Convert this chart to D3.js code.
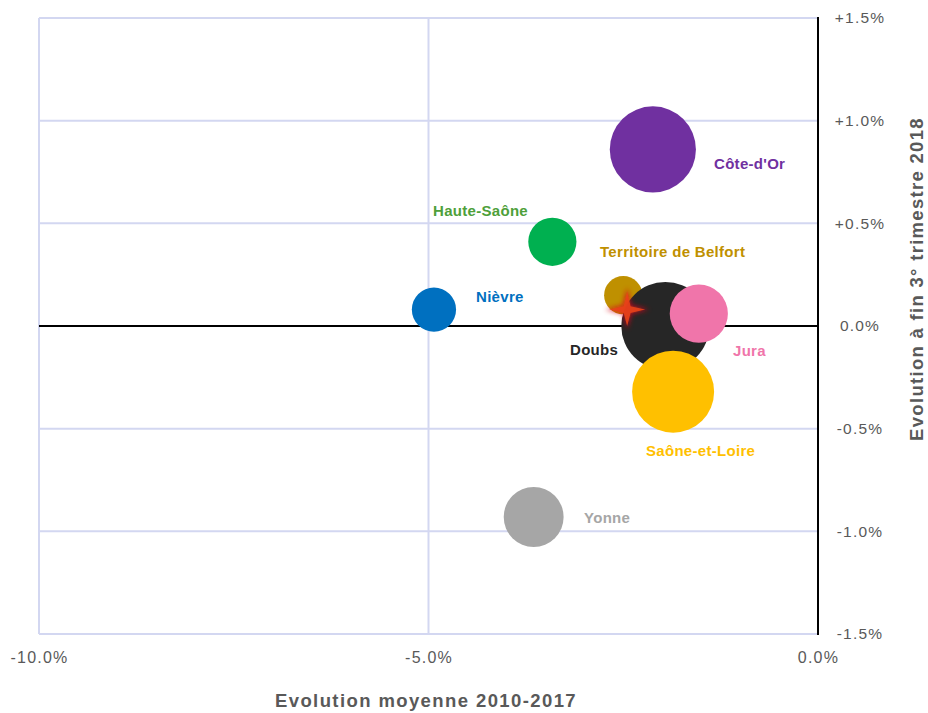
<!DOCTYPE html>
<html lang="fr">
<head>
<meta charset="utf-8">
<script src="https://cdn.jsdelivr.net/npm/d3@7"></script>
<style>
  html, body { margin: 0; padding: 0; background: #ffffff; }
  svg { display: block; font-family: Arial, "Liberation Sans", sans-serif; }
</style>
</head>
<body>
<svg id="chart" width="928" height="713"></svg>
<script>
// Départements : évolution moyenne 2010-2017 (x) et évolution à fin T3 2018 (y)
const departements = ["Côte-d'Or", "Haute-Saône", "Nièvre", "Territoire de Belfort", "Doubs", "Jura", "Saône-et-Loire", "Yonne"];
const evolMoyenne   = [-2.12, -3.41, -4.93, -2.50, -1.96, -1.53, -1.86, -3.65];
const evolFinT3     = [0.86, 0.41, 0.08, 0.15, 0.00, 0.06, -0.32, -0.93];
const effectifs     = [182, 57, 48, 36, 190, 83, 165, 88];
const couleurs      = ["#7030A0", "#00B050", "#0070C0", "#BF9000", "#262626", "#F075AA", "#FFC000", "#A6A6A6"];
const couleursTexte = ["#7030A0", "#4EA03A", "#0070C0", "#BF9000", "#262626", "#F075AA", "#FFC000", "#A6A6A6"];

// Moyenne régionale (étoile)
const regionX = -2.45;
const regionY = 0.08;

// Graduations
const xTicks = [-10, -5, 0];
const xTickLabels = ["-10.0%", "-5.0%", "0.0%"];
const yTicks = [1.5, 1.0, 0.5, 0, -0.5, -1.0, -1.5];
const yTickLabels = ["+1.5%", "+1.0%", "+0.5%", "0.0%", "-0.5%", "-1.0%", "-1.5%"];

const svg = d3.select("#chart");
const plotLeft = 39, plotRight = 818, plotTop = 18, plotBottom = 634;

const x = d3.scaleLinear().domain([-10, 0]).range([plotLeft, plotRight]);
const y = d3.scaleLinear().domain([-1.5, 1.5]).range([plotBottom, plotTop]);
const r = d3.scaleSqrt().domain([0, 190]).range([0, 44]);

const gridColor = "#D3D7F1";

// Quadrillage
const grid = svg.append("g");
grid.selectAll("line.h").data(yTicks).join("line")
  .attr("x1", plotLeft).attr("x2", plotRight)
  .attr("y1", d => y(d)).attr("y2", d => y(d))
  .attr("stroke", gridColor).attr("stroke-width", 2);
grid.selectAll("line.v").data(xTicks.filter(d => d !== 0)).join("line")
  .attr("x1", d => x(d)).attr("x2", d => x(d))
  .attr("y1", plotTop).attr("y2", plotBottom)
  .attr("stroke", gridColor).attr("stroke-width", 2);

// Axes principaux (croisement à 0)
svg.append("line")
  .attr("x1", plotLeft).attr("x2", plotRight)
  .attr("y1", y(0)).attr("y2", y(0))
  .attr("stroke", "#000").attr("stroke-width", 2);
svg.append("line")
  .attr("x1", x(0)).attr("x2", x(0))
  .attr("y1", plotTop - 1).attr("y2", plotBottom + 1)
  .attr("stroke", "#000").attr("stroke-width", 2);

// Axe vertical (à droite)
const yAxis = d3.axisRight(y)
  .tickValues(yTicks)
  .tickSize(0)
  .tickPadding(0)
  .tickFormat((d, i) => yTickLabels[i]);
const gy = svg.append("g").attr("transform", `translate(860,0)`).call(yAxis);
gy.select(".domain").remove();
gy.selectAll("text")
  .attr("text-anchor", "middle")
  .attr("x", 0)
  .attr("fill", "#595959")
  .style("font-size", "15.5px")
  .style("letter-spacing", "1.2px")
  .style("font-family", "Arial, 'Liberation Sans', sans-serif");

// Axe horizontal
const xAxis = d3.axisBottom(x)
  .tickValues(xTicks)
  .tickSize(0)
  .tickPadding(0)
  .tickFormat((d, i) => xTickLabels[i]);
const gx = svg.append("g").attr("transform", `translate(0,651)`).call(xAxis);
gx.select(".domain").remove();
gx.selectAll("text")
  .attr("fill", "#595959")
  .attr("dy", "0.75em")
  .style("font-size", "16px")
  .style("letter-spacing", "1.2px")
  .style("font-family", "Arial, 'Liberation Sans', sans-serif");

// Titres d'axes
svg.append("text")
  .attr("x", 426).attr("y", 707)
  .attr("text-anchor", "middle")
  .attr("fill", "#595959")
  .style("font-size", "18.5px")
  .style("font-weight", "bold")
  .style("letter-spacing", "1.4px")
  .text("Evolution moyenne 2010-2017");

svg.append("text")
  .attr("transform", "translate(923,279) rotate(-90)")
  .attr("text-anchor", "middle")
  .attr("fill", "#595959")
  .style("font-size", "18.5px")
  .style("font-weight", "bold")
  .style("letter-spacing", "1.3px")
  .text("Evolution à fin 3° trimestre 2018");

// Bulles, dans l'ordre de superposition
const data = departements.map((d, i) => ({
  nom: d, x: evolMoyenne[i], y: evolFinT3[i], taille: effectifs[i],
  couleur: couleurs[i], couleurTexte: couleursTexte[i]
}));
const order = ["Côte-d'Or", "Haute-Saône", "Nièvre", "Yonne", "Territoire de Belfort", "Doubs", "Jura", "Saône-et-Loire"];
const drawn = order.map(n => data.find(d => d.nom === n));

svg.append("g").selectAll("circle").data(drawn).join("circle")
  .attr("cx", d => x(d.x))
  .attr("cy", d => y(d.y))
  .attr("r", d => r(d.taille))
  .attr("fill", d => d.couleur);

// Étoile : moyenne régionale, avec halo
const defs = svg.append("defs");
const glow = defs.append("filter").attr("id", "halo")
  .attr("x", "-50%").attr("y", "-50%").attr("width", "200%").attr("height", "200%");
glow.append("feGaussianBlur").attr("stdDeviation", 2.5);

const starPts = [[0, -22], [4.2, -4.2], [22, 0], [4.2, 4.2], [0, 20], [-4.2, 4.2], [-22, 0], [-4.2, -4.2]];
const starLine = d3.line().curve(d3.curveLinearClosed);
const sx = x(regionX), sy = y(regionY);
const starG = svg.append("g").attr("transform", `translate(${sx},${sy})`);
starG.append("path")
  .attr("d", starLine(starPts))
  .attr("fill", "#D8101A")
  .attr("opacity", 0.8)
  .attr("filter", "url(#halo)");
starG.append("path")
  .attr("d", starLine(starPts.map(([a, b]) => [a * 0.82, b * 0.82])))
  .attr("fill", "#E8421A")
  .attr("opacity", 0.9);

// Étiquettes
const labelPos = {
  "Côte-d'Or": [714, 169],
  "Haute-Saône": [433, 216],
  "Nièvre": [476, 302],
  "Territoire de Belfort": [600, 257],
  "Doubs": [570, 355],
  "Jura": [733, 356],
  "Saône-et-Loire": [646, 456],
  "Yonne": [584, 523]
};
svg.append("g").selectAll("text").data(data).join("text")
  .attr("x", d => labelPos[d.nom][0])
  .attr("y", d => labelPos[d.nom][1])
  .attr("fill", d => d.couleurTexte)
  .style("font-size", "15px")
  .style("font-weight", "bold")
  .style("letter-spacing", "0.3px")
  .text(d => d.nom);
</script>
</body>
</html>
